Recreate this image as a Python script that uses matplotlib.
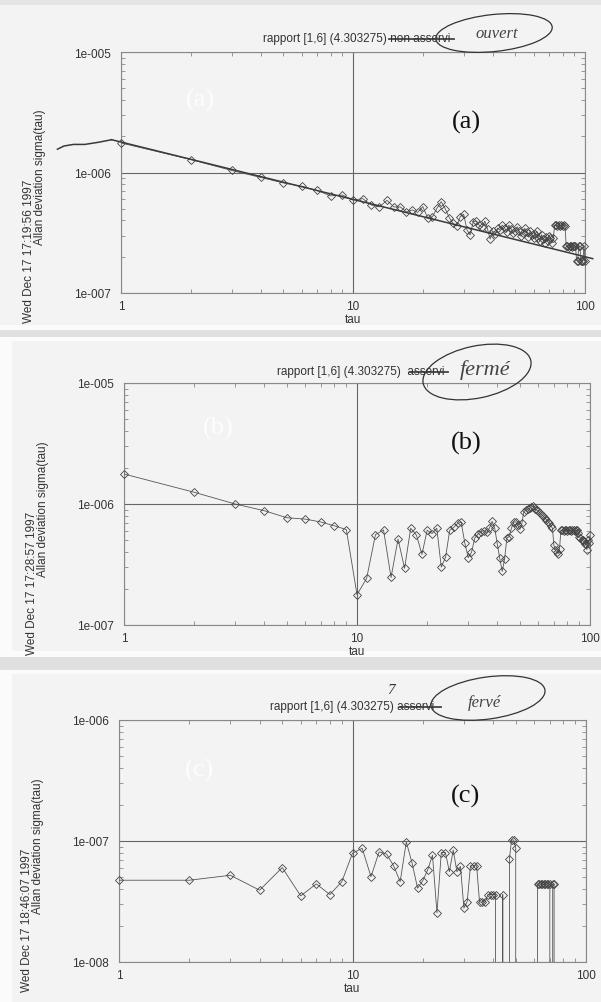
import numpy as np
import matplotlib
matplotlib.use("Agg")
import matplotlib.pyplot as plt
import matplotlib.ticker as ticker
from matplotlib.patches import Ellipse, Rectangle
from matplotlib.lines import Line2D
from matplotlib.transforms import Affine2D

# ---------------------------------------------------------------------------
# Data
# ---------------------------------------------------------------------------
TAU_A = np.arange(1, 101)
SIGMA_A = np.array([
    17.6, 12.8, 10.4, 9.1, 8.2, 7.7, 7.1, 6.4, 6.5, 5.9,
    6.07, 5.37, 5.18, 5.88, 5.18, 5.18, 4.70, 4.89, 4.67, 5.21,
    4.16, 4.30, 5.04, 5.73, 4.98, 4.22, 3.78, 3.60, 4.30, 4.50,
    3.33, 3.03, 3.91, 3.95, 3.66, 3.50, 3.95, 3.40, 2.80, 3.27,
    3.10, 3.45, 3.35, 3.66, 3.48, 3.20, 3.66, 3.40, 3.12, 3.30,
    3.55, 3.25, 2.95, 3.15, 3.45, 3.20, 2.90, 3.30, 3.05, 2.85,
    3.10, 3.25, 2.85, 2.70, 3.05, 2.80, 2.60, 2.90, 2.70, 3.00,
    2.85, 2.60, 2.85, 3.65, 3.65, 3.60, 3.65, 3.60, 3.65, 3.60,
    3.65, 3.60, 2.45, 2.45, 2.40, 2.45, 2.45, 2.40, 2.45, 2.45,
    2.45, 1.85, 1.85, 2.45, 2.45, 1.85, 1.85, 1.85, 2.45, 1.85,
]) * 1e-7

TAU_B = np.arange(1, 101)
SIGMA_B = np.array([
    17.7, 12.5, 10.0, 8.8, 7.7, 7.5, 7.1, 6.6, 6.15, 1.78,
    2.43, 5.58, 6.10, 2.47, 5.13, 2.94, 6.31, 5.52, 3.83, 6.07,
    5.70, 6.31, 3.01, 3.64, 6.07, 6.40, 6.90, 7.08, 4.79, 3.60,
    3.98, 5.21, 5.62, 5.89, 6.03, 5.82, 6.31, 7.19, 6.31, 4.68,
    3.55, 2.77, 3.52, 5.25, 5.37, 6.31, 7.08, 7.13, 6.68, 6.17,
    6.92, 8.63, 8.91, 9.02, 9.20, 9.51, 9.66, 9.12, 8.91, 8.71,
    8.41, 8.13, 7.94, 7.67, 7.41, 7.16, 6.92, 6.61, 6.31, 4.55,
    4.14, 3.98, 3.89, 4.27, 6.07, 6.07, 6.03, 6.07, 6.07, 6.03,
    6.07, 6.07, 6.03, 6.07, 6.07, 6.03, 6.07, 6.07, 5.75, 5.37,
    5.25, 5.01, 5.01, 4.90, 4.68, 4.68, 4.19, 5.01, 4.79, 5.52,
]) * 1e-7

# zeros = estimates that fell to <= 0 (the curve drops out of the log axis)
TAU_C = np.arange(1, 75)
SIGMA_C = np.array([
    4.74, 4.74, 5.21, 3.92, 6.03, 3.52, 4.42, 3.61, 4.61, 7.92,
    8.71, 5.07, 8.13, 7.78, 6.24, 4.61, 9.82, 6.56, 4.07, 4.70,
    5.78, 7.64, 2.55, 8.02, 8.02, 5.57, 8.43, 5.57, 6.17, 2.79,
    3.16, 6.24, 6.24, 6.24, 3.13, 3.13, 3.13, 3.61, 3.61, 3.61,
    3.61, 0.0, 0.0, 3.61, 0.0, 0.0, 7.16, 10.2, 10.2, 8.81,
    0.0, 0.0, 0.0, 0.0, 0.0, 0.0, 0.0, 0.0, 0.0, 0.0,
    0.0, 4.41, 4.41, 4.41, 4.41, 4.41, 4.41, 4.41, 4.41, 4.41,
    0.0, 4.41, 4.41, 0.0,
]) * 1e-8

# hand-drawn slope line on (a)
FIT_A_AMP = 1.79e-6
FIT_A_SLOPE = -0.476
FIT_A_RANGE = [0.91, 108.0]
PEN_A_TAU = [0.532, 0.568, 0.624, 0.698, 0.797, 0.910]
PEN_A_SIGMA = [1.56e-6, 1.66e-6, 1.71e-6, 1.71e-6, 1.78e-6, 1.87e-6]

PANEL_LETTERS = ["(a)", "(b)", "(c)"]
TITLES = ["rapport [1,6] (4.303275) non asservi",
          "rapport [1,6] (4.303275)  asservi",
          "rapport [1,6] (4.303275) asservi"]
DATES = ["Wed Dec 17 17:19:56 1997",
         "Wed Dec 17 17:28:57 1997",
         "Wed Dec 17 18:46:07 1997"]
YLABEL = "Allan deviation sigma(tau)"
XLABEL = "tau"
HANDWRITING = ["ouvert", "fermé", "fervé"]
XTICKS = [1, 10, 100]
XTICK_LABELS = ["1", "10", "100"]
YTICKS = [[1e-7, 1e-6, 1e-5], [1e-7, 1e-6, 1e-5], [1e-8, 1e-7, 1e-6]]
YTICK_LABELS = [["1e-007", "1e-006", "1e-005"],
                ["1e-007", "1e-006", "1e-005"],
                ["1e-008", "1e-007", "1e-006"]]

# ---------------------------------------------------------------------------
# Layout / style (pixel positions in the 601x1003 page)
# ---------------------------------------------------------------------------
W, H, DPI = 601, 1003, 100
AX_BOX = [(121, 53, 585, 294), (124, 384, 590, 626), (119, 721, 586, 963)]
SANS = "Liberation Sans"
SERIF = "Liberation Serif"
INK = "#333333"
PAGE = "#f3f3f3"
LINE = "#555555"

fig = plt.figure(figsize=(W / DPI, H / DPI), dpi=DPI)
fig.patch.set_facecolor(PAGE)
pix = Affine2D().scale(1 / W, -1 / H).translate(0, 1) + fig.transFigure

# scanner bands between the three sheets
for x0, y0, w, h, col in [(0, 0, W, 6, "#e4e4e4"),
                          (0, 326, W, 5, "#fbfbfb"), (0, 331, W, 7, "#e0e0e0"),
                          (0, 338, W, 4, "#fbfbfb"), (0, 338, 12, 314, "#fbfbfb"),
                          (0, 652, W, 6, "#fbfbfb"), (0, 658, W, 13, "#e0e0e0"),
                          (0, 671, W, 4, "#fbfbfb"), (0, 671, 12, 332, "#fbfbfb")]:
    fig.add_artist(Rectangle((x0, y0), w, h, transform=pix, color=col,
                             zorder=-5, lw=0))


def ptext(x, y, s, **kw):
    kw.setdefault("family", SANS)
    kw.setdefault("fontsize", 8.5)
    kw.setdefault("color", INK)
    fig.text(x, y, s, transform=pix, **kw)


def strike(x0, x1, y):
    fig.add_artist(Line2D([x0, x1], [y, y], transform=pix, color="#444444",
                          lw=1.3))


def make_axes(i, tau, sigma):
    l, t, r, b = AX_BOX[i]
    ax = fig.add_axes([l / W, 1 - b / H, (r - l) / W, (b - t) / H])
    ax.set_facecolor("none")
    ax.set_xscale("log")
    ax.set_yscale("log")
    ax.set_xlim(1, 100)
    ax.set_ylim(YTICKS[i][0], YTICKS[i][-1])

    pos = sigma > 0
    ax.plot(tau, sigma, color=LINE, lw=0.6, zorder=3)
    ax.plot(tau[pos], sigma[pos], ls="none", marker="D", ms=3.6, mew=0.6,
            mec="#444444", mfc="none", clip_on=False, zorder=4)

    ax.xaxis.set_major_locator(ticker.FixedLocator(XTICKS))
    ax.xaxis.set_major_formatter(ticker.FixedFormatter(XTICK_LABELS))
    ax.yaxis.set_major_locator(ticker.FixedLocator(YTICKS[i]))
    ax.yaxis.set_major_formatter(ticker.FixedFormatter(YTICK_LABELS[i]))
    for axis in (ax.xaxis, ax.yaxis):
        axis.set_minor_locator(ticker.LogLocator(base=10, subs=np.arange(2, 10)))
        axis.set_minor_formatter(ticker.NullFormatter())
    ax.tick_params(which="both", direction="in", top=True, right=True,
                   color="#888888", width=0.6, labelsize=8.5, labelcolor=INK)
    ax.tick_params(which="major", length=0)
    ax.tick_params(which="minor", length=3)
    ax.tick_params(axis="y", pad=7)
    ax.tick_params(axis="x", pad=5)
    for lab in ax.get_xticklabels() + ax.get_yticklabels():
        lab.set_family(SANS)
    ax.grid(True, which="major", color="#666666", lw=0.8)
    for sp in ax.spines.values():
        sp.set_color("#888888")
        sp.set_linewidth(0.8)
    ax.set_xlabel(XLABEL, family=SANS, fontsize=8.5, color=INK, labelpad=1)

    cy = (t + b) / 2
    ptext(l - 81, cy + 4, YLABEL, rotation=90, ha="center", va="center")
    ptext(l - 92, cy + 78, DATES[i], rotation=90, ha="center", va="center")
    return ax


# (a) ------------------------------------------------------------------------
ax_a = make_axes(0, TAU_A, SIGMA_A)
fit_tau = np.array(FIT_A_RANGE)
ax_a.plot(fit_tau, FIT_A_AMP * fit_tau ** FIT_A_SLOPE, color="#3a3a3a", lw=1.1,
          clip_on=False, zorder=5)
ax_a.plot(PEN_A_TAU, PEN_A_SIGMA, color="#3a3a3a", lw=1.1, clip_on=False,
          zorder=5)
ptext(263, 39, TITLES[0], ha="left", va="center")
strike(389, 454, 40)
fig.add_artist(Ellipse((494, 34), 117, 37, angle=-6, transform=pix,
                       fill=False, ec="#333333", lw=0.9))
ptext(497, 34, HANDWRITING[0], family=SERIF, style="italic", fontsize=12,
      color="#444444", ha="center", va="center")
ptext(466, 122, PANEL_LETTERS[0], family=SERIF, fontsize=19, color="#111111",
      ha="center", va="center")
ptext(200, 100, PANEL_LETTERS[0], family=SERIF, fontsize=19, color="#fdfdfd",
      ha="center", va="center")

# (b) ------------------------------------------------------------------------
make_axes(1, TAU_B, SIGMA_B)
ptext(277, 372, TITLES[1], ha="left", va="center")
strike(410, 448, 373)
fig.add_artist(Ellipse((477, 373), 110, 52, angle=-12, transform=pix,
                       fill=False, ec="#333333", lw=0.9))
ptext(485, 370, HANDWRITING[1], family=SERIF, style="italic", fontsize=16,
      color="#444444", ha="center", va="center")
ptext(466, 443, PANEL_LETTERS[1], family=SERIF, fontsize=19, color="#111111",
      ha="center", va="center")
ptext(218, 428, PANEL_LETTERS[1], family=SERIF, fontsize=19, color="#fdfdfd",
      ha="center", va="center")

# (c) ------------------------------------------------------------------------
make_axes(2, TAU_C, SIGMA_C)
ptext(270, 707, TITLES[2], ha="left", va="center")
strike(400, 441, 708)
ptext(391, 691, "7", family=SERIF, style="italic", fontsize=11,
      color="#333333", ha="center", va="center")
fig.add_artist(Ellipse((488, 699), 115, 42, angle=-8, transform=pix,
                       fill=False, ec="#333333", lw=0.9))
ptext(484, 703, HANDWRITING[2], family=SERIF, style="italic", fontsize=12,
      color="#444444", ha="center", va="center")
ptext(466, 796, PANEL_LETTERS[2], family=SERIF, fontsize=19, color="#111111",
      ha="center", va="center")
ptext(200, 770, PANEL_LETTERS[2], family=SERIF, fontsize=19, color="#fdfdfd",
      ha="center", va="center")

fig.savefig("out.png", dpi=DPI, facecolor=fig.get_facecolor())
